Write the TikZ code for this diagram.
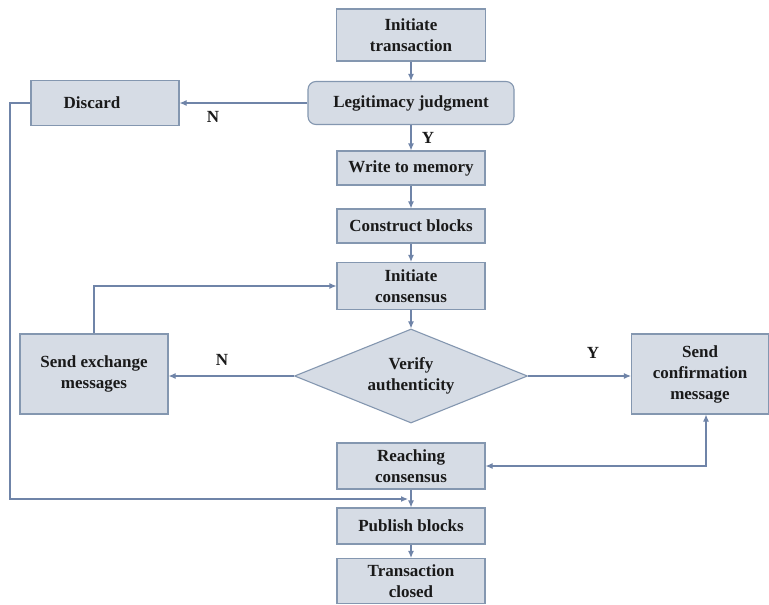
\documentclass[tikz,border=0pt]{standalone}
\usepackage{fontspec}
\setmainfont{Liberation Serif}
\usetikzlibrary{arrows.meta,shapes.geometric}
\definecolor{boxfill}{HTML}{D6DCE5}
\definecolor{boxline}{HTML}{8497B0}
\definecolor{conn}{HTML}{6F84A8}
\definecolor{txt}{HTML}{1A1A1A}
\begin{document}
\begin{tikzpicture}[x=1pt,y=-1pt,
  box/.style={draw=boxline,fill=boxfill,line width=1.1pt,align=center,inner sep=0pt,
    text=txt,font=\bfseries\fontsize{17}{21}\selectfont},
  conn/.style={draw=conn,line width=1.1pt,-{Latex[length=7pt,width=6pt]}},
  lab/.style={text=txt,font=\bfseries\fontsize{17}{21}\selectfont,inner sep=0pt}]
\useasboundingbox (0,0) rectangle (769,605);
\fill[white] (0,0) rectangle (769,605);
\node[box,minimum width=149pt,minimum height=52pt] (it) at (411,35) {Initiate\\transaction};
\node[box,rounded corners=8pt,minimum width=206pt,minimum height=43pt] (lj) at (411,103) {Legitimacy judgment};
\node[box,minimum width=148pt,minimum height=45pt] (dis) at (105,103) {\hspace*{-26pt}Discard};
\node[box,minimum width=148pt,minimum height=34pt] (wm) at (411,168) {Write to memory};
\node[box,minimum width=148pt,minimum height=34pt] (cb) at (411,226) {Construct blocks};
\node[box,minimum width=148pt,minimum height=47pt] (ic) at (411,286) {Initiate\\consensus};
\node[box,diamond,aspect=2.48,minimum width=233pt,minimum height=94pt] (dia) at (411,376) {Verify\\authenticity};
\node[box,minimum width=148pt,minimum height=80pt] (sem) at (94,374) {Send exchange\\messages};
\node[box,minimum width=137pt,minimum height=80pt] (scm) at (700,374) {Send\\confirmation\\message};
\node[box,minimum width=148pt,minimum height=46pt] (rc) at (411,466) {Reaching\\consensus};
\node[box,minimum width=148pt,minimum height=36pt] (pb) at (411,526) {Publish blocks};
\node[box,minimum width=148pt,minimum height=45pt] (tc) at (411,581) {Transaction\\closed};
\coordinate (dtop) at (10,103);
\coordinate (dbot) at (10,499);
\coordinate (mrg) at (408,499);
\coordinate (semtop) at (94,286);
\coordinate (scmbot) at (706,466);
\draw[conn] (it) -- (lj);
\draw[conn] (lj) -- (dis);
\draw[conn] (lj) -- (wm);
\draw[conn] (wm) -- (cb);
\draw[conn] (cb) -- (ic);
\draw[conn] (ic) -- (dia);
\draw[conn] (dia.west) -- (dia.west -| sem.east);
\draw[conn] (dia.east) -- (dia.east -| scm.west);
\draw[conn] (sem.north) -- (semtop) -- (ic.west);
\draw[conn,{Latex[length=7pt,width=6pt]}-{Latex[length=7pt,width=6pt]}] (rc.east) -- (scmbot) -- (scmbot |- scm.south);
\draw[conn] (rc) -- (pb);
\draw[conn] (pb) -- (tc);
\draw[conn] (dis.west) -- (dtop) -- (dbot) -- (mrg);
\node[lab] (n1) at (213,117) {N};
\node[lab] (y1) at (428,138) {Y};
\node[lab] (n2) at (222,360) {N};
\node[lab] (y2) at (593,353) {Y};
\end{tikzpicture}
\end{document}
